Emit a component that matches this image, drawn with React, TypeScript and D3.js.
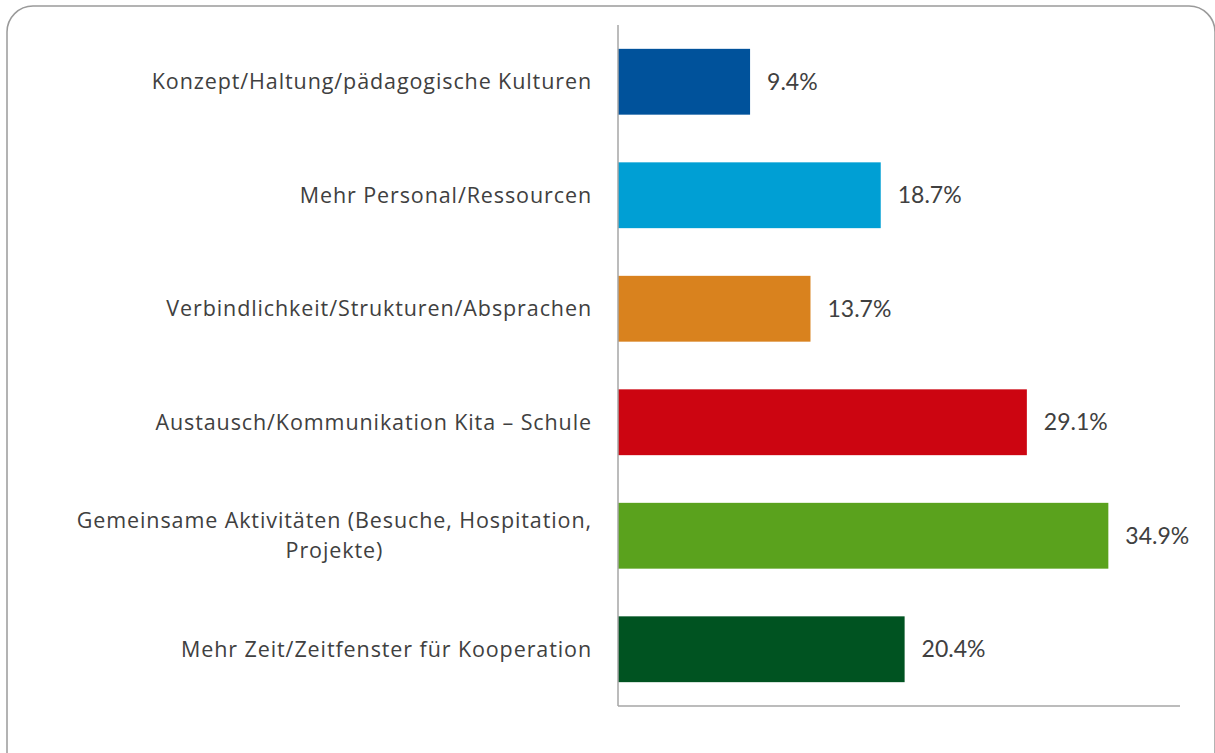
import React, { useLayoutEffect, useRef, useState } from "react";
import * as d3 from "d3";

const categories: string[][] = [
  ["Konzept/Haltung/pädagogische Kulturen"],
  ["Mehr Personal/Ressourcen"],
  ["Verbindlichkeit/Strukturen/Absprachen"],
  ["Austausch/Kommunikation Kita – Schule"],
  ["Gemeinsame Aktivitäten (Besuche, Hospitation,", "Projekte)"],
  ["Mehr Zeit/Zeitfenster für Kooperation"],
];
const values: number[] = [9.4, 18.7, 13.7, 29.1, 34.9, 20.4];
const colors: string[] = ["#00529B", "#009FD4", "#D9821E", "#CC0511", "#5AA21D", "#005321"];
const xDomain: [number, number] = [0, 40];

const W = 1215;
const H = 753;
const left = 618;
const right = 1180;
const top = 25;
const bottom = 706;
const labelX = 592;
const labelFont = "'Open Sans', 'Noto Sans', sans-serif";
const valueFont = "Lato, 'Open Sans', sans-serif";
const textColor = "#404040";

function Label({ lines, yc }: { lines: string[]; yc: number }) {
  const ref = useRef<SVGTextElement>(null);
  const [w, setW] = useState(0);
  useLayoutEffect(() => {
    if (ref.current && lines.length > 1) {
      setW(ref.current.getComputedTextLength());
    }
  }, [lines]);
  const lh = 30;
  const y0 = yc - ((lines.length - 1) * lh) / 2;
  const common = {
    dy: "0.35em",
    fontSize: 21.5,
    letterSpacing: 0.9,
    fontFamily: labelFont,
    fill: textColor,
  };
  if (lines.length === 1) {
    return (
      <text x={labelX} y={yc} textAnchor="end" {...common}>
        {lines[0]}
      </text>
    );
  }
  const cx = labelX - w / 2;
  return (
    <g>
      {lines.map((l, j) => (
        <text
          key={j}
          ref={j === 0 ? ref : undefined}
          x={j === 0 ? labelX : cx}
          y={y0 + j * lh}
          textAnchor={j === 0 ? "end" : "middle"}
          {...common}
        >
          {l}
        </text>
      ))}
    </g>
  );
}

export default function App() {
  const x = d3.scaleLinear().domain(xDomain).range([left, right]);
  const y = d3
    .scaleBand<number>()
    .domain(d3.range(values.length))
    .range([top, bottom])
    .paddingInner(0.42)
    .paddingOuter(0.21);
  const bw = y.bandwidth();

  return (
    <svg
      width={W}
      height={H}
      style={{ position: "fixed", left: 0, top: 0, background: "#fff" }}
    >
      <rect x={7} y={6} width={1208} height={780} rx={26} ry={26} fill="#fff" stroke="#9a9a9a" strokeWidth={1.5} />
      {values.map((v, i) => {
        const yc = (y(i) as number) + bw / 2;
        return (
          <g key={i}>
            <rect x={x(0)} y={y(i)} width={x(v) - x(0)} height={bw} fill={colors[i]} />
            <text
              x={x(v) + 17}
              y={yc}
              dy="0.35em"
              fontSize={23}
              fontFamily={valueFont}
              fill={textColor}
            >
              {v.toFixed(1) + "%"}
            </text>
            <Label lines={categories[i]} yc={yc} />
          </g>
        );
      })}
      <line x1={left} x2={left} y1={top} y2={bottom} stroke="#a6a6a6" strokeWidth={1.5} />
      <line x1={left} x2={right} y1={bottom} y2={bottom} stroke="#a6a6a6" strokeWidth={1.5} />
    </svg>
  );
}
